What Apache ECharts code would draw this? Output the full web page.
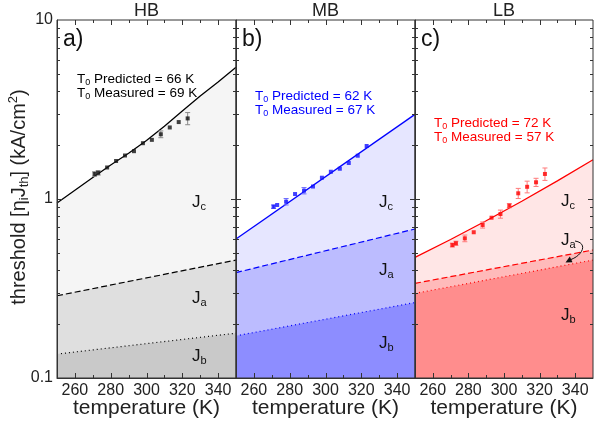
<!DOCTYPE html>
<html><head><meta charset="utf-8">
<script src="https://cdn.jsdelivr.net/npm/echarts@6/dist/echarts.min.js"></script>
<style>html,body{margin:0;padding:0;background:#fff}#c{width:606px;height:424px}</style>
</head><body><div id="c"></div>
<script>
// ---------- data ----------
const panelTitles = ['HB', 'MB', 'LB'];
const panelLetters = ['a)', 'b)', 'c)'];
const t0Predicted = [66, 62, 72];
const t0Measured = [69, 67, 57];
const xTickLabels = [260, 280, 300, 320, 340];
const xTickMinor = [270, 290, 310, 330];
const yTickLabels = [0.1, 1, 10];
const yTickMajor = [1];
const yTickMinor = [0.2, 0.3, 0.4, 0.5, 0.6, 0.7, 0.8, 0.9, 2, 3, 4, 5, 6, 7, 8, 9];

const measTemps = [271, 273, 278, 283, 288, 293, 298, 303, 308, 313, 318, 323];
const measHB = [1.38, 1.40, 1.50, 1.63, 1.75, 1.85, 2.05, 2.14, 2.30, 2.51, 2.69, 2.82];
const errHB  = [0.04, 0.04, 0, 0, 0, 0, 0, 0, 0.10, 0, 0, 0.22];
const measMB = [0.906, 0.926, 0.966, 1.066, 1.113, 1.174, 1.315, 1.42, 1.476, 1.589, 1.745, 1.977];
const errMB  = [0.02, 0, 0.04, 0, 0.045, 0, 0, 0, 0, 0, 0, 0];
const measLB = [0.553, 0.566, 0.603, 0.652, 0.716, 0.786, 0.824, 0.918, 1.076, 1.17, 1.24, 1.38];
const errLB  = [0.014, 0.015, 0.026, 0, 0.028, 0, 0.043, 0.024, 0.07, 0.088, 0.065, 0.11];

const jcTempsHB = [250, 260, 270, 280, 290, 300, 310, 320, 330, 340, 350];
const jcHB = [0.95, 1.12, 1.32, 1.55, 1.80, 2.12, 2.55, 3.1, 3.76, 4.5, 5.45];
const jcTempsMB = [250, 350];
const jcMB = [0.598, 2.97];
const jcTempsLB = [250, 270, 290, 310, 330, 350];
const jcLB = [0.472, 0.594, 0.756, 0.972, 1.262, 1.656];
const modelTemps = [250, 350];
const jaHB = [0.288, 0.456];
const jbHB = [0.136, 0.178];
const jaMB = [0.388, 0.68];
const jbMB = [0.172, 0.264];
const jaLB = [0.338, 0.519];
const jbLB = [0.297, 0.456];

// ---------- styling ----------
const panels = [
  {left: 57, width: 179, line: '#000000', pt: '#111111', err: '#8a8a8a', fills: ['#f5f5f5', '#dfdfdf', '#c9c9c9'],
   meas: measHB, err_: errHB, jcT: jcTempsHB, jc: jcHB, ja: jaHB, jb: jbHB},
  {left: 236, width: 179, line: '#0000ff', pt: '#1010ff', err: '#6a6aff', fills: ['#e6e6ff', '#bcbcff', '#8d8dff'],
   meas: measMB, err_: errMB, jcT: jcTempsMB, jc: jcMB, ja: jaMB, jb: jbMB},
  {left: 415, width: 178, line: '#ff0000', pt: '#ff0000', err: '#ff7a7a', fills: ['#ffe6e6', '#ffbaba', '#ff8d8d'],
   meas: measLB, err_: errLB, jcT: jcTempsLB, jc: jcLB, ja: jaLB, jb: jbLB}
];
const TOP = 20, HEIGHT = 358;
const axisColor = '#333';
const FONT = 'Liberation Sans, Arial, sans-serif';

// tick marks: [x, y, kind]; kinds 0/1 bottom/top major, 2/3 bottom/top minor, 4/5 left/right major, 6/7 left/right minor
const tickData = [].concat(
  xTickLabels.map(v => [v, 0.1, 0]), xTickLabels.map(v => [v, 10, 1]),
  xTickMinor.map(v => [v, 0.1, 2]), xTickMinor.map(v => [v, 10, 3]),
  yTickMajor.map(v => [250, v, 4]), yTickMajor.map(v => [350, v, 5]),
  yTickMinor.map(v => [250, v, 6]), yTickMinor.map(v => [350, v, 7])
);

const grids = [], xAxes = [], yAxes = [], series = [], graphics = [];
const zip = (a, b) => a.map((v, i) => [v, b[i]]);

panels.forEach((p, i) => {
  grids.push({left: p.left, top: TOP, width: p.width, height: HEIGHT, z: 10,
    show: true, borderColor: axisColor, borderWidth: 1, backgroundColor: 'transparent'});
  xAxes.push({gridIndex: i, type: 'value', min: 250, max: 350, interval: 10, position: 'bottom', z: 10,
    splitLine: {show: false},
    axisLine: {show: true, onZero: false, lineStyle: {color: axisColor, width: 1}},
    axisTick: {show: false},
    axisLabel: {show: true, customValues: xTickLabels, fontSize: 16, color: '#222', margin: 5, fontFamily: FONT},
    name: 'temperature (K)', nameLocation: 'middle', nameGap: 20, nameMoveOverlap: false,
    nameTextStyle: {fontSize: 21, color: '#222', fontFamily: FONT, verticalAlign: 'top'}});
  yAxes.push({gridIndex: i, type: 'log', logBase: 10, min: 0.1, max: 10, position: 'left', z: 10,
    splitLine: {show: false}, minorSplitLine: {show: false},
    axisLine: {show: true, onZero: false, lineStyle: {color: axisColor, width: 1}},
    axisTick: {show: false}, minorTick: {show: false},
    axisLabel: {show: i === 0, customValues: yTickLabels, fontSize: 16, color: '#222', margin: 4, fontFamily: FONT, formatter: v => String(v)}});

  const ax = {xAxisIndex: i, yAxisIndex: i};
  series.push(Object.assign({type: 'line', name: 'Jc', data: zip(p.jcT, p.jc), symbol: 'none', smooth: false,
    lineStyle: {color: p.line, width: 1.3}, areaStyle: {color: p.fills[0], opacity: 1, origin: 'start'},
    z: 2, silent: true, animation: false}, ax));
  series.push(Object.assign({type: 'line', name: 'Ja', data: zip(modelTemps, p.ja), symbol: 'none',
    lineStyle: {color: p.line, width: 1.2, type: [6, 3]}, areaStyle: {color: p.fills[1], opacity: 1, origin: 'start'},
    z: 2, silent: true, animation: false}, ax));
  series.push(Object.assign({type: 'line', name: 'Jb', data: zip(modelTemps, p.jb), symbol: 'none',
    lineStyle: {color: p.line, width: 1.2, type: [1, 3]}, areaStyle: {color: p.fills[2], opacity: 1, origin: 'start'},
    z: 2, silent: true, animation: false}, ax));
  const errColor = p.err;
  series.push(Object.assign({type: 'custom', name: 'err',
    data: measTemps.map((t, k) => [t, p.meas[k], p.err_[k]]),
    encode: {x: 0, y: 1},
    renderItem: function (params, api) {
      const x = api.value(0), y = api.value(1), e = api.value(2);
      if (!e) return null;
      const a = api.coord([x, y + e]), b = api.coord([x, y - e]);
      const w = 2.5;
      const st = {stroke: errColor, lineWidth: 1};
      return {type: 'group', children: [
        {type: 'line', shape: {x1: a[0], y1: a[1], x2: b[0], y2: b[1]}, style: st},
        {type: 'line', shape: {x1: a[0] - w, y1: a[1], x2: a[0] + w, y2: a[1]}, style: st},
        {type: 'line', shape: {x1: b[0] - w, y1: b[1], x2: b[0] + w, y2: b[1]}, style: st}
      ]};
    }, z: 4, silent: true, animation: false}, ax));
  series.push(Object.assign({type: 'scatter', name: 'meas', data: zip(measTemps, p.meas),
    symbol: 'rect', symbolSize: 4, itemStyle: {color: p.pt}, z: 5, silent: true, animation: false}, ax));
  // inward tick marks on all four edges, placed through the panel's axes
  series.push(Object.assign({type: 'custom', name: 'ticks', data: tickData, encode: {x: 0, y: 1},
    renderItem: function (params, api) {
      const pt = api.coord([api.value(0), api.value(1)]);
      const kind = api.value(2);
      const major = (kind === 0 || kind === 1 || kind === 4 || kind === 5);
      const len = major ? 5 : 3;
      let x1 = pt[0], y1 = pt[1], x2 = pt[0], y2 = pt[1];
      if (kind === 0 || kind === 1 || kind === 2 || kind === 3) {
        x1 = x2 = Math.round(pt[0]) + 0.5;
        y2 = (kind === 0 || kind === 2) ? y1 - len : y1 + len;
      } else {
        y1 = y2 = Math.round(pt[1]) + 0.5;
        x2 = (kind === 4 || kind === 6) ? x1 + len : x1 - len;
      }
      return {type: 'group', children: [
        {type: 'line', shape: {x1: x1, y1: y1, x2: x2, y2: y2}, style: {stroke: axisColor, lineWidth: 1}}
      ]};
    }, z: 6, silent: true, animation: false}, ax));

  const cx = p.left + p.width / 2;
  graphics.push({type: 'text', z: 100, x: cx, y: 11, style: {text: panelTitles[i], font: '18px ' + FONT, fill: '#222', align: 'center', verticalAlign: 'middle'}});
  graphics.push({type: 'text', z: 100, x: p.left + 6, y: 40, style: {text: panelLetters[i], font: '23px ' + FONT, fill: '#111', align: 'left', verticalAlign: 'middle'}});
});

// T0 annotations
const t0Pos = [[77, 79], [255, 96], [434, 123]];
const rich = (c, fs, sfs) => ({
  n: {fontSize: fs, fill: c, fontFamily: FONT},
  s: {fontSize: sfs, fill: c, fontFamily: FONT, padding: [Math.round(fs * 0.55), 0, 0, 0]},
  p: {fontSize: sfs, fill: c, fontFamily: FONT, padding: [0, 0, Math.round(fs * 0.55), 0]}
});
panels.forEach((p, i) => {
  const c = p.line;
  graphics.push({type: 'text', z: 100, x: t0Pos[i][0], y: t0Pos[i][1], style: {text: '{n|T}{s|0}{n| Predicted = ' + t0Predicted[i] + ' K}', align: 'left', verticalAlign: 'middle', rich: rich(c, 13.5, 9)}});
  graphics.push({type: 'text', z: 100, x: t0Pos[i][0], y: t0Pos[i][1] + 14, style: {text: '{n|T}{s|0}{n| Measured = ' + t0Measured[i] + ' K}', align: 'left', verticalAlign: 'middle', rich: rich(c, 13.5, 9)}});
});

// J labels
const jLabels = [
  [[192, 202, 'c'], [192, 298, 'a'], [192, 356, 'b']],
  [[379, 202, 'c'], [379, 270, 'a'], [379, 343, 'b']],
  [[561, 201, 'c'], [561, 240, 'a'], [561, 315, 'b']]
];
jLabels.forEach(list => list.forEach(([x, y, s]) => {
  graphics.push({type: 'text', z: 100, x: x, y: y, style: {text: '{n|J}{s|' + s + '}', align: 'left', verticalAlign: 'middle', rich: rich('#111', 17, 11)}});
}));

// arrow in panel c
graphics.push({type: 'bezierCurve', z: 100, shape: {x1: 575, y1: 241, cpx1: 588, cpy1: 243, cpx2: 583, cpy2: 255, x2: 571, y2: 259.5},
  style: {stroke: '#111', lineWidth: 1, fill: null}});
graphics.push({type: 'polygon', z: 100, shape: {points: [[565.5, 262.5], [572.5, 262.2], [569.8, 256.4]]}, style: {fill: '#111'}});

// y axis title
graphics.push({type: 'text', z: 100, x: 19, y: 197, rotation: Math.PI / 2,
  style: {text: '{n|threshold [η}{s|i}{n|J}{s|th}{n|] (kA/cm}{p|2}{n|)}', align: 'center', verticalAlign: 'middle', rich: rich('#222', 20, 13)}});

const chart = echarts.init(document.getElementById('c'), null, {renderer: 'canvas'});
chart.setOption({
  animation: false,
  backgroundColor: '#fff',
  grid: grids, xAxis: xAxes, yAxis: yAxes, series: series, graphic: graphics
});
</script></body></html>
